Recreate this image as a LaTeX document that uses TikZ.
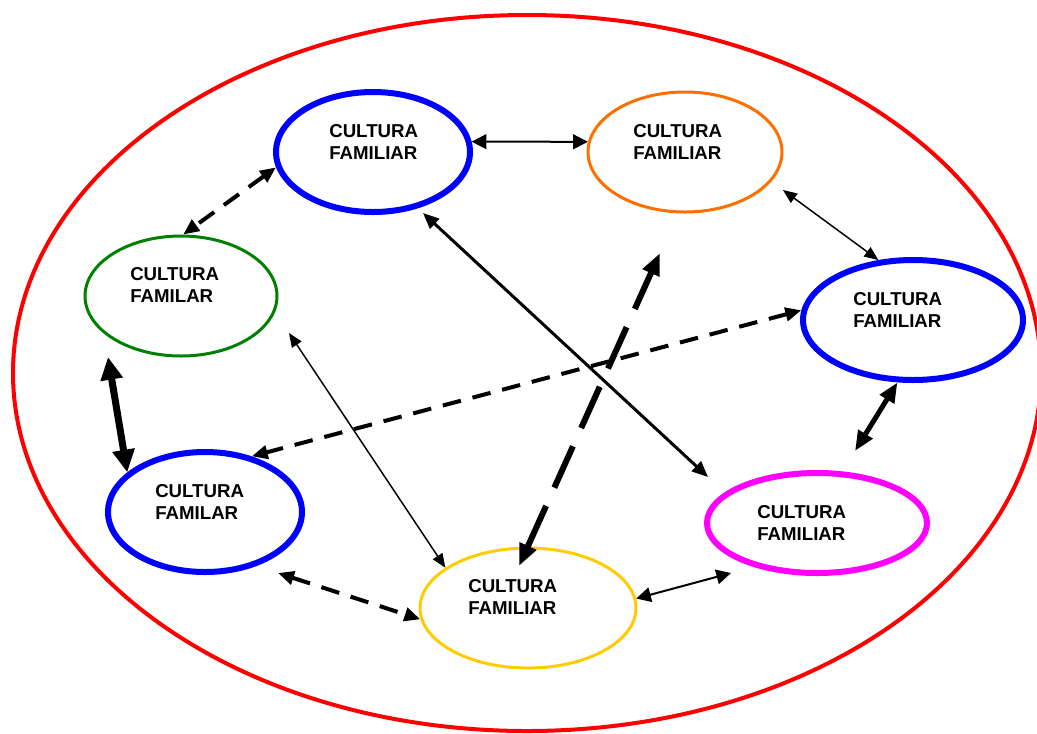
\documentclass[tikz,border=0pt]{standalone}
\usepackage{fontspec}
\setmainfont{Liberation Sans}
\usetikzlibrary{arrows.meta,shapes.geometric,calc}
\definecolor{cRed}{RGB}{255,0,0}
\definecolor{cBlue}{RGB}{0,0,255}
\definecolor{cOrange}{RGB}{255,110,0}
\definecolor{cGreen}{RGB}{0,128,0}
\definecolor{cYellow}{RGB}{255,204,0}
\definecolor{cMagenta}{RGB}{255,0,255}
\newcommand{\twoline}[2]{\vtop{\baselineskip=16.5pt\hbox{#1}\hbox{#2}}}
\begin{document}
\begin{tikzpicture}[x=0.75pt,y=-0.75pt,
  ell/.style={draw,ellipse,inner sep=0pt},
  lbl/.style={anchor=base west,inner sep=0pt,font=\fontsize{14}{16.5}\selectfont\bfseries},
  arrThin/.style={line width=1.5pt,{Triangle[length=11pt,width=11pt]}-{Triangle[length=11pt,width=11pt]}},
  arrHair/.style={line width=1.1pt,{Triangle[length=10.5pt,width=8.5pt]}-{Triangle[length=10.5pt,width=8.5pt]}},
  arrDash/.style={line width=3pt,dash pattern=on 14pt off 9pt,{Triangle[length=12pt,width=10pt]}-{Triangle[length=12pt,width=10pt]}},
  arrMed/.style={line width=2.25pt,{Triangle[length=12pt,width=10pt]}-{Triangle[length=12pt,width=10pt]}},
  arrBigDash/.style={line width=4.5pt,dash pattern=on 34pt off 15pt,{Triangle[length=16.5pt,width=13pt]}-{Triangle[length=16.5pt,width=13pt]}},
  arrHuge/.style={line width=5.25pt,{Triangle[length=17pt,width=16pt]}-{Triangle[length=17pt,width=16pt]}},
  arrThick/.style={line width=3.75pt,{Triangle[length=15pt,width=12pt]}-{Triangle[length=15pt,width=12pt]}}
]
\useasboundingbox (0,0) rectangle (1037,733);
% outer red ellipse
\node[ell,draw=cRed,line width=3pt,minimum width=771pt,minimum height=537pt] (n0) at (527,373) {};
% family cultures
\node[ell,draw=cBlue,line width=4.5pt,minimum width=145.5pt,minimum height=90pt] (n1) at (373,152) {};
\node[ell,draw=cOrange,line width=2.25pt,minimum width=145.5pt,minimum height=90pt] (n2) at (685,152) {};
\node[ell,draw=cGreen,line width=2.25pt,minimum width=144pt,minimum height=90pt] (n3) at (181,296) {};
\node[ell,draw=cBlue,line width=4.5pt,minimum width=165pt,minimum height=90pt] (n4) at (913,320) {};
\node[ell,draw=cBlue,line width=4.5pt,minimum width=145.5pt,minimum height=90pt] (n5) at (205,512) {};
\node[ell,draw=cMagenta,line width=4.5pt,minimum width=165pt,minimum height=75pt] (n6) at (817,523) {};
\node[ell,draw=cYellow,line width=2.25pt,minimum width=162pt,minimum height=90pt] (n7) at (528,608) {};
% labels
\node[lbl] (t1) at (329,137) {\twoline{CULTURA}{FAMILIAR}};
\node[lbl] (t2) at (633,137) {\twoline{CULTURA}{FAMILIAR}};
\node[lbl] (t3) at (130,280) {\twoline{CULTURA}{FAMILAR}};
\node[lbl] (t4) at (853,305) {\twoline{CULTURA}{FAMILIAR}};
\node[lbl] (t5) at (155,497) {\twoline{CULTURA}{FAMILAR}};
\node[lbl] (t6) at (757,518) {\twoline{CULTURA}{FAMILIAR}};
\node[lbl] (t7) at (468,592) {\twoline{CULTURA}{FAMILIAR}};
% free connector ends
\coordinate (p3a) at ($(n2)+(98,38)$);
\coordinate (p4a) at ($(n3)+(108,37)$);
\coordinate (p6a) at ($(n1)+(50,61)$);
\coordinate (p6b) at ($(n6)+(-109,-46)$);
\coordinate (p7a) at ($(n7)+(-9,-42)$);
\coordinate (p7b) at ($(n2)+(-25,101)$);
\coordinate (p8a) at ($(n3)+(-73,61)$);
\coordinate (p9b) at ($(n6)+(38,-72)$);
\coordinate (p10a) at ($(n5)+(73,61)$);
\coordinate (p11b) at ($(n6)+(-86,50)$);
% connectors
\draw[arrThin] (n1.6) -- (n2.174);
\draw[arrDash] (n1.189) -- (n3.88);
\draw[arrHair] (p3a) -- (n4.120);
\draw[arrHair] (p4a) -- (n7.154);
\draw[arrDash] (n4.175) -- (n5.50);
\draw[arrMed] (p6a) -- (p6b);
\draw[arrBigDash] (p7a) -- (p7b);
\draw[arrHuge] (p8a) -- (n5.153);
\draw[arrThick] (n4.256) -- (p9b);
\draw[arrDash] (p10a) -- (n7.186);
\draw[arrThin] (n7.5) -- (p11b);
\end{tikzpicture}
\end{document}
